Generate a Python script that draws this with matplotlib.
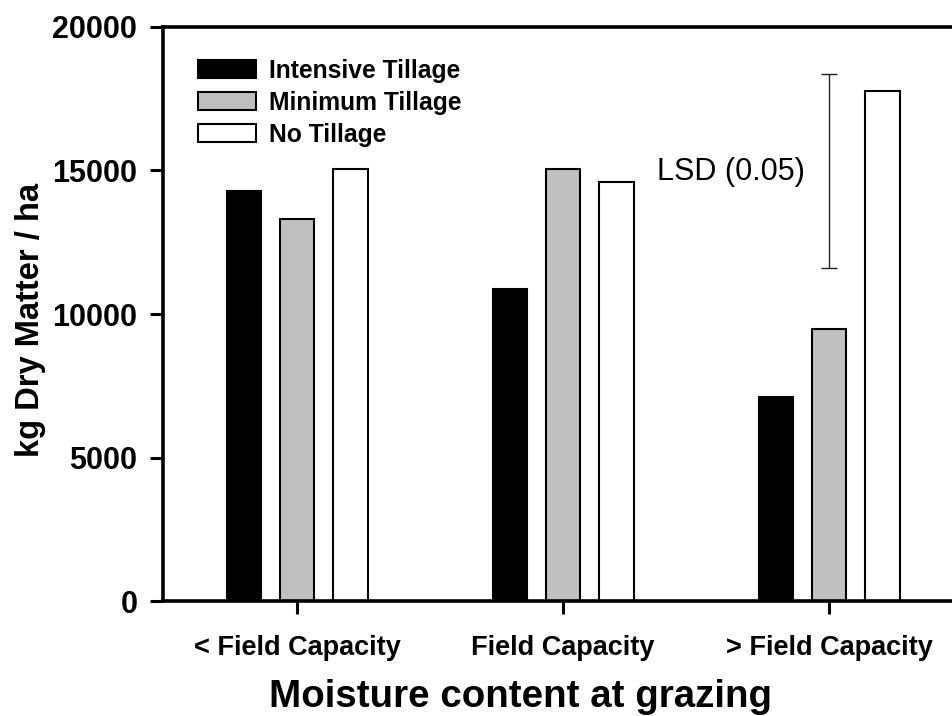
import numpy as np
import matplotlib
matplotlib.use("Agg")
import matplotlib.pyplot as plt

plt.rcParams["font.family"] = ["Liberation Sans", "DejaVu Sans"]

groups = ["< Field Capacity", "Field Capacity", "> Field Capacity"]
series = ["Intensive Tillage", "Minimum Tillage", "No Tillage"]
intensive = [14300, 10870, 7120]
minimum = [13300, 15050, 9470]
no_till = [15050, 14600, 17770]
lsd_low, lsd_high = 11610, 18370
yticks = [0, 5000, 10000, 15000, 20000]

fig = plt.figure(figsize=(9.53, 7.16), dpi=100)
ax = fig.add_axes([0.171, 0.1606, 0.829, 0.8017])

x = np.arange(len(groups))
off = 0.201
w = 0.128
ax.bar(x - off, intensive, w, color="black", edgecolor="black", lw=1.5, label=series[0])
ax.bar(x, minimum, w, color="#c0c0c0", edgecolor="black", lw=1.5, label=series[1])
ax.bar(x + off, no_till, w, color="white", edgecolor="black", lw=1.5, label=series[2])

# LSD bar over the last group
mid = (lsd_low + lsd_high) / 2
ax.errorbar(x[-1], mid, yerr=(lsd_high - lsd_low) / 2, fmt="none",
            ecolor="#222222", elinewidth=1, capsize=6, capthick=1)
ax.text(1.91, 14950, "LSD (0.05)", ha="right", va="center", fontsize=22)

ax.set_xlim(-0.504, 2.466)
ax.set_ylim(0, 20000)
ax.set_yticks(yticks)
ax.set_yticklabels([str(v) for v in yticks], fontsize=22, fontweight="bold")
ax.set_xticks(x)
ax.set_xticklabels(groups, fontsize=19.5, fontweight="bold")
ax.tick_params(axis="both", length=9.5, width=2.2, color="black")
ax.tick_params(axis="y", pad=9)
ax.tick_params(axis="x", pad=15)

for s in ["left", "bottom", "top"]:
    ax.spines[s].set_linewidth(2.6)
ax.spines["right"].set_visible(False)

ax.set_ylabel("kg Dry Matter / ha", fontsize=23.5, fontweight="bold", ha="center", va="center")
ax.yaxis.set_label_coords(-0.168, 0.49)
ax.set_xlabel("Moisture content at grazing", fontsize=27.7, fontweight="bold", va="center")
ax.xaxis.set_label_coords(0.453, -0.167)

ax.legend(loc="upper left", bbox_to_anchor=(0.044, 0.945), frameon=False,
          prop={"size": 17.7, "weight": "bold"}, handlelength=2.36, handleheight=0.73,
          handletextpad=0.53, labelspacing=0.33, borderaxespad=0, borderpad=0)

fig.savefig("out.png", dpi=100)
